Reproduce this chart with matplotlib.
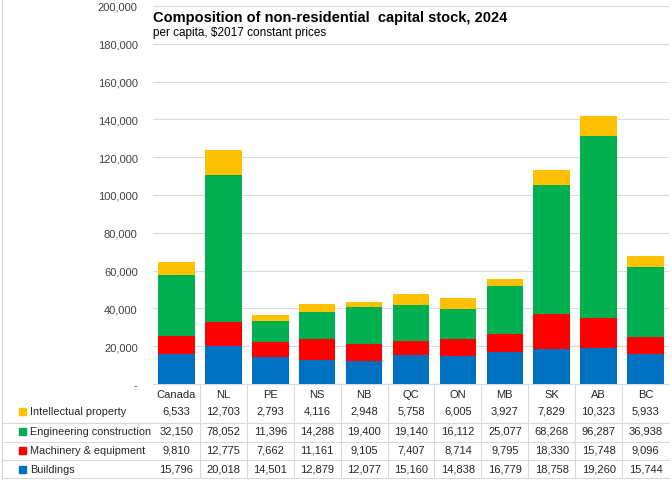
import matplotlib.pyplot as plt
from matplotlib.lines import Line2D
from matplotlib.ticker import FuncFormatter
import numpy as np

plt.rcParams['font.family'] = ['Liberation Sans', 'DejaVu Sans']

# Dados
regioes = ["Canada", "NL", "PE", "NS", "NB", "QC", "ON", "MB", "SK", "AB", "BC"]
edificios = [15796, 20018, 14501, 12879, 12077, 15160, 14838, 16779, 18758, 19260, 15744]
maquinas = [9810, 12775, 7662, 11161, 9105, 7407, 8714, 9795, 18330, 15748, 9096]
engenharia = [32150, 78052, 11396, 14288, 19400, 19140, 16112, 25077, 68268, 96287, 36938]
intelectual = [6533, 12703, 2793, 4116, 2948, 5758, 6005, 3927, 7829, 10323, 5933]

series = [
    ("Intellectual property", intelectual, "#FFC000"),
    ("Engineering construction", engenharia, "#00B050"),
    ("Machinery & equipment", maquinas, "#FF0000"),
    ("Buildings", edificios, "#0070C0"),
]

W, H = 672, 481
fig = plt.figure(figsize=(W / 100, H / 100), dpi=100)
x0, x1, yb, yt = 153, 669, 385, 7
ax = fig.add_axes([x0 / W, 1 - yb / H, (x1 - x0) / W, (yb - yt) / H])

x = np.arange(len(regioes))
base = np.zeros(len(regioes))
for nome, vals, cor in reversed(series):
    ax.bar(x, vals, bottom=base, width=0.78, color=cor, zorder=3)
    base += np.array(vals)

ax.set_xlim(-0.5, len(regioes) - 0.5)
ax.set_ylim(0, 200000)
ax.set_yticks(np.arange(0, 200001, 20000))
ax.yaxis.set_major_formatter(FuncFormatter(lambda v, p: "-" if v == 0 else f"{int(v):,}"))
ax.tick_params(axis="y", length=0, labelsize=8, colors="#404040", pad=11)
ax.set_xticks([])
ax.grid(axis="y", color="#D9D9D9", linewidth=0.8, zorder=0)
for s in ["left", "right", "top"]:
    ax.spines[s].set_visible(False)
ax.spines["bottom"].set_color("#D9D9D9")

# Título
fig.text(x0 / W, 1 - 18 / H, "Composition of non-residential  capital stock, 2024",
         fontsize=10.5, fontweight="bold", va="center", ha="left")
fig.text(x0 / W, 1 - 33 / H, "per capita, $2017 constant prices",
         fontsize=8.5, va="center", ha="left")

# Tabela de dados
col_w = (x1 - x0) / len(regioes)
linhas_y = [412, 432, 451, 470]
cor_linha = "#D9D9D9"

for i, reg in enumerate(regioes):
    cx = (x0 + col_w * (i + 0.5)) / W
    fig.text(cx, 1 - 395 / H, reg, fontsize=8, ha="center", va="center", color="#262626")
    for (nome, vals, cor), ly in zip(series, linhas_y):
        fig.text(cx, 1 - ly / H, f"{vals[i]:,}", fontsize=8, ha="center", va="center", color="#262626")

for (nome, vals, cor), ly in zip(series, linhas_y):
    fig.text(30 / W, 1 - ly / H, nome, fontsize=7.8, ha="left", va="center", color="#262626")
    fig.patches.append(plt.Rectangle((19 / W, 1 - (ly + 3.5) / H), 7 / W, 7 / H,
                                     transform=fig.transFigure, color=cor))

# Linhas da tabela
for i in range(1, len(regioes)):
    lx = (x0 + col_w * i) / W
    fig.add_artist(Line2D([lx, lx], [1 - yb / H, 1 - 479 / H], color=cor_linha, linewidth=0.8))
for hy in [424, 443, 461, 479]:
    fig.add_artist(Line2D([2 / W, x1 / W], [1 - hy / H, 1 - hy / H], color=cor_linha, linewidth=0.8))
fig.add_artist(Line2D([2 / W, 2 / W], [0, 1], color=cor_linha, linewidth=0.8))

fig.savefig("out.png", dpi=100)
